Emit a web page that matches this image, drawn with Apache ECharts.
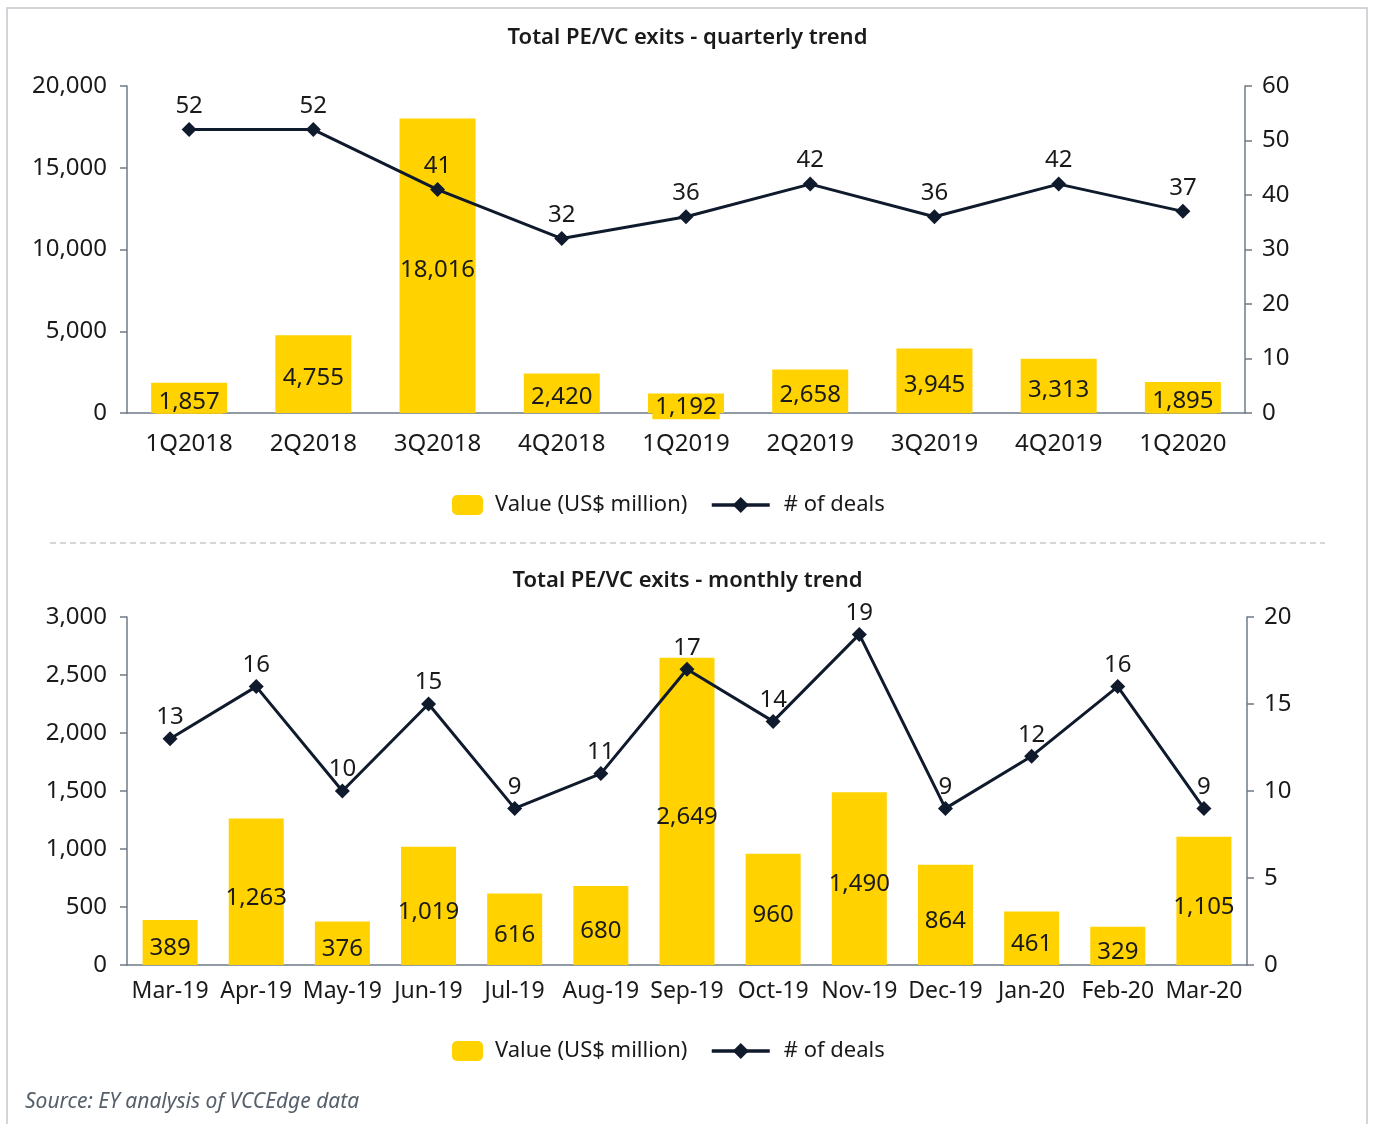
<!DOCTYPE html>
<html>
<head>
<meta charset="utf-8">
<script src="https://cdn.jsdelivr.net/npm/echarts@6/dist/echarts.min.js"></script>
<style>
  html, body { margin: 0; padding: 0; background: #fff; }
  #chart { width: 1375px; height: 1124px; }
</style>
</head>
<body>
<div id="chart"></div>
<script>
// Quarterly exits
const quarters = ['1Q2018', '2Q2018', '3Q2018', '4Q2018', '1Q2019', '2Q2019', '3Q2019', '4Q2019', '1Q2020'];
const quarterValue = [1857, 4755, 18016, 2420, 1192, 2658, 3945, 3313, 1895];
const quarterDeals = [52, 52, 41, 32, 36, 42, 36, 42, 37];

// Monthly exits
const months = ['Mar-19', 'Apr-19', 'May-19', 'Jun-19', 'Jul-19', 'Aug-19', 'Sep-19', 'Oct-19', 'Nov-19', 'Dec-19', 'Jan-20', 'Feb-20', 'Mar-20'];
const monthValue = [389, 1263, 376, 1019, 616, 680, 2649, 960, 1490, 864, 461, 329, 1105];
const monthDeals = [13, 16, 10, 15, 9, 11, 17, 14, 19, 9, 12, 16, 9];

const VALUE_NAME = 'Value (US$ million)';
const DEALS_NAME = '# of deals';

const FONT = '"Noto Sans", sans-serif';
const FS = 24;
const TXT = '#1a1a1a';
const YELLOW = '#FFD200';
const NAVY = '#0f1a2c';
const AXIS = '#6f7a86';

const fmt = v => Number(v).toLocaleString('en-US');

function valueAxis(gridIndex, pos, max, interval, margin) {
  return {
    type: 'value', gridIndex, position: pos, min: 0, max, interval,
    splitLine: { show: false },
    axisLine: { show: true, lineStyle: { color: AXIS, width: 1.5 } },
    axisTick: { show: true, length: 7, lineStyle: { color: AXIS, width: 1.5 } },
    axisLabel: { color: TXT, fontFamily: FONT, fontSize: FS, margin, formatter: fmt }
  };
}

function catAxis(gridIndex, data, margin, fontSize) {
  return {
    type: 'category', gridIndex, data,
    axisLine: { show: true, lineStyle: { color: AXIS, width: 1.5 } },
    axisTick: { show: false },
    axisLabel: { color: TXT, fontFamily: FONT, fontSize, margin, interval: 0 }
  };
}

const labelText = { fontFamily: FONT, fontSize: FS, color: TXT };

// Short quarterly bars: the value label spills past the bar, so give it a yellow backing
const quarterBarData = quarterValue.map(v => v < 2000
  ? { value: v, label: { backgroundColor: YELLOW, padding: [0, 3] } }
  : v);

const legendBase = {
  orient: 'horizontal',
  selectedMode: false,
  lineStyle: { width: 3.5 }
};
const legendText = pad => ({ fontFamily: FONT, fontSize: 22, color: TXT, padding: [0, 0, 0, pad] });

const option = {
  animation: false,
  backgroundColor: '#fff',
  title: [
    { text: 'Total PE/VC exits - quarterly trend', left: 'center', top: 22,
      textStyle: { fontFamily: FONT, fontSize: 22, fontWeight: 600, color: TXT } },
    { text: 'Total PE/VC exits - monthly trend', left: 'center', top: 565,
      textStyle: { fontFamily: FONT, fontSize: 22, fontWeight: 600, color: TXT } }
  ],
  legend: [
    Object.assign({}, legendBase, { data: [VALUE_NAME], left: 447, top: 489, itemWidth: 31, itemHeight: 20, textStyle: legendText(7) }),
    Object.assign({}, legendBase, { data: [DEALS_NAME], left: 705, top: 489, itemWidth: 58, itemHeight: 20, textStyle: legendText(9) }),
    Object.assign({}, legendBase, { data: [VALUE_NAME], left: 447, top: 1035, itemWidth: 31, itemHeight: 20, textStyle: legendText(7) }),
    Object.assign({}, legendBase, { data: [DEALS_NAME], left: 705, top: 1035, itemWidth: 58, itemHeight: 20, textStyle: legendText(9) })
  ],
  grid: [
    { left: 127, right: 130, top: 86, height: 327 },
    { left: 127, right: 128, top: 617, height: 348 }
  ],
  xAxis: [
    catAxis(0, quarters, 19, 24),
    catAxis(1, months, 15, 23)
  ],
  yAxis: [
    valueAxis(0, 'left', 20000, 5000, 20),
    valueAxis(0, 'right', 60, 10, 17),
    valueAxis(1, 'left', 3000, 500, 20),
    valueAxis(1, 'right', 20, 5, 17)
  ],
  series: [
    {
      name: VALUE_NAME, type: 'bar', xAxisIndex: 0, yAxisIndex: 0,
      data: quarterBarData, barWidth: 76,
      itemStyle: { color: YELLOW },
      label: Object.assign({ show: true, position: 'inside', offset: [0, 4], formatter: p => fmt(p.value) }, labelText)
    },
    {
      name: DEALS_NAME, type: 'line', xAxisIndex: 0, yAxisIndex: 1,
      data: quarterDeals, symbol: 'diamond', symbolSize: 15,
      lineStyle: { color: NAVY, width: 3 }, itemStyle: { color: NAVY },
      label: Object.assign({ show: true, position: 'top', distance: 4 }, labelText),
      z: 3
    },
    {
      name: VALUE_NAME, type: 'bar', xAxisIndex: 1, yAxisIndex: 2,
      data: monthValue, barWidth: 55,
      itemStyle: { color: YELLOW },
      label: Object.assign({ show: true, position: 'inside', offset: [0, 6], formatter: p => fmt(p.value) }, labelText)
    },
    {
      name: DEALS_NAME, type: 'line', xAxisIndex: 1, yAxisIndex: 3,
      data: monthDeals, symbol: 'diamond', symbolSize: 15,
      lineStyle: { color: NAVY, width: 3 }, itemStyle: { color: NAVY },
      label: Object.assign({ show: true, position: 'top', distance: 2 }, labelText),
      z: 3
    }
  ],
  graphic: [
    { type: 'rect', shape: { x: 7, y: 8, width: 1360, height: 1130 },
      style: { fill: 'none', stroke: '#c3c9cf', lineWidth: 1.5 }, silent: true, z: -10 },
    { type: 'line', shape: { x1: 50, y1: 543, x2: 1325, y2: 543 },
      style: { stroke: '#a9afb5', lineWidth: 1, lineDash: [6, 4] }, silent: true },
    { type: 'text', left: 25, top: 1092,
      style: { text: 'Source: EY analysis of VCCEdge data', fill: '#56606b',
        font: 'italic 21px "Noto Sans", sans-serif' } }
  ]
};

echarts.init(document.getElementById('chart')).setOption(option);
</script>
</body>
</html>
